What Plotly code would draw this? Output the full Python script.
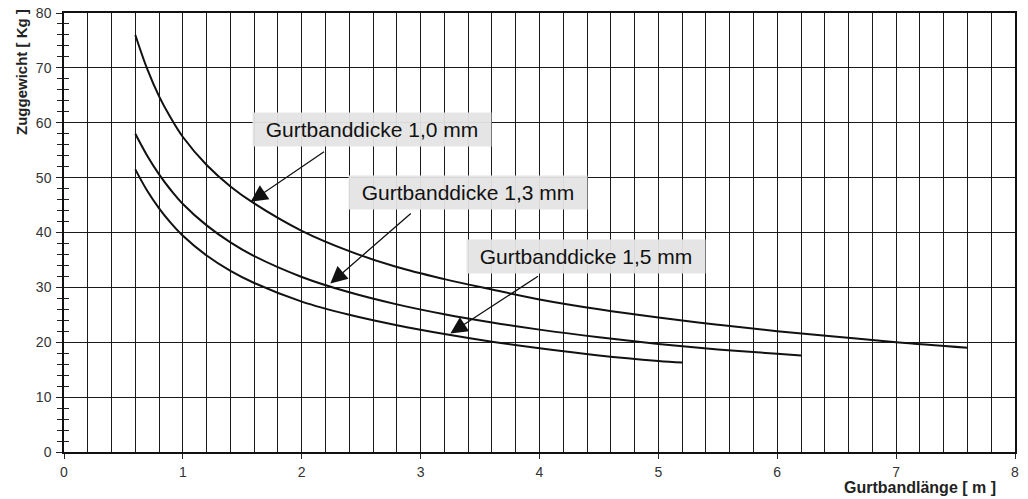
import plotly.graph_objects as go

# Gurtbandlänge [m] sample points and Zuggewicht [Kg]
x_10 = [0.6, 0.7, 0.8, 0.9, 1.0, 1.2, 1.4, 1.6, 2.0, 2.4, 2.8, 3.2, 3.6, 4.0, 4.5, 5.0, 5.5, 6.0, 6.5, 7.0, 7.6]
y_10 = [76.0, 69.8, 64.8, 60.8, 57.4, 52.3, 48.4, 45.3, 40.3, 36.6, 33.7, 31.5, 29.6, 27.8, 26.0, 24.5, 23.2, 22.0, 21.0, 20.0, 19.0]

x_13 = [0.6, 0.7, 0.8, 0.9, 1.0, 1.2, 1.4, 1.6, 2.0, 2.4, 2.8, 3.2, 3.6, 4.0, 4.5, 5.0, 5.5, 6.0, 6.2]
y_13 = [58.0, 54.0, 50.6, 47.7, 45.2, 41.3, 38.2, 35.7, 31.9, 29.1, 26.9, 25.1, 23.6, 22.3, 20.9, 19.7, 18.7, 17.9, 17.6]

x_15 = [0.6, 0.7, 0.8, 0.9, 1.0, 1.2, 1.4, 1.6, 2.0, 2.4, 2.8, 3.2, 3.6, 4.0, 4.5, 5.0, 5.2]
y_15 = [51.5, 47.6, 44.4, 41.7, 39.4, 35.8, 33.0, 30.8, 27.4, 25.0, 23.1, 21.5, 20.1, 18.9, 17.6, 16.6, 16.3]

labels = ["Gurtbanddicke 1,0 mm", "Gurtbanddicke 1,3 mm", "Gurtbanddicke 1,5 mm"]
label_pos = [(2.59, 58.7), (3.40, 47.2), (4.39, 35.6)]
arrow_tail = [(2.20, 54.9), (2.93, 43.7), (4.00, 32.2)]
arrow_head = [(1.57, 45.6), (2.24, 30.7), (3.25, 21.6)]

x_ticks = [0, 1, 2, 3, 4, 5, 6, 7, 8]
y_ticks = [0, 10, 20, 30, 40, 50, 60, 70, 80]

fig = go.Figure()
for xs, ys in [(x_10, y_10), (x_13, y_13), (x_15, y_15)]:
    fig.add_trace(go.Scatter(x=xs, y=ys, mode="lines",
                             line=dict(color="#111", width=2, shape="spline", smoothing=1.0),
                             showlegend=False, hoverinfo="skip"))

# invisible trace on y2 so the overlay axis (inner tick halves) is drawn
fig.add_trace(go.Scatter(x=[0], y=[0], yaxis="y2", mode="markers",
                         marker=dict(opacity=0), showlegend=False, hoverinfo="skip"))

font = "Liberation Sans, Arial, sans-serif"
for txt, (tx, ty), (ax, ay), (hx, hy) in zip(labels, label_pos, arrow_tail, arrow_head):
    fig.add_annotation(x=tx, y=ty, text=txt, showarrow=False,
                       font=dict(family=font, size=21, color="#111"),
                       width=226, height=21, align="center",
                       bgcolor="rgba(228,228,228,0.95)", borderpad=6)
    fig.add_annotation(x=hx, y=hy, ax=ax, ay=ay, axref="x", ayref="y",
                       text="", showarrow=True, arrowhead=2, arrowsize=2.6,
                       arrowwidth=1.3, arrowcolor="#111")

fig.add_annotation(x=7.86, xref="x", y=-0.082, yref="paper", xanchor="right", yanchor="middle",
                   text="<b>Gurtbandlänge [ m ]</b>", showarrow=False,
                   font=dict(family=font, size=16, color="#222"))
fig.add_annotation(x=-0.044, xref="paper", y=0.866, yref="paper", textangle=-90,
                   xanchor="center", yanchor="middle",
                   text="<b>Zuggewicht [ Kg ]</b>", showarrow=False,
                   font=dict(family=font, size=15, color="#222"))

fig.update_layout(
    width=1028, height=499,
    margin=dict(l=64, r=13, t=13, b=47, autoexpand=False),
    paper_bgcolor="white", plot_bgcolor="white",
    font=dict(family=font, size=14, color="#333"),
    xaxis=dict(range=[0, 8], tickvals=x_ticks, ticks="outside", ticklen=5, automargin=False,
               tickcolor="#222", showgrid=True, gridcolor="#1a1a1a", gridwidth=1,
               minor=dict(dtick=0.2, showgrid=True, gridcolor="#1a1a1a", gridwidth=1, ticks=""),
               showline=True, linecolor="#111", linewidth=1.5, mirror=True,
               zeroline=False, tickfont=dict(size=14, color="#333"), ticklabelstandoff=1),
    yaxis=dict(range=[0, 80], tickvals=y_ticks, ticks="outside", ticklen=6, automargin=False,
               tickcolor="#222", showgrid=True, gridcolor="#1a1a1a", gridwidth=1,
               minor=dict(dtick=2, ticks="outside", ticklen=5, tickcolor="#222", showgrid=False),
               showline=True, linecolor="#111", linewidth=1.5, mirror=True,
               zeroline=False, tickfont=dict(size=14, color="#333"), ticklabelstandoff=2),
    yaxis2=dict(range=[0, 80], overlaying="y", side="left", anchor="x", automargin=False,
                tickvals=y_ticks, ticks="inside", ticklen=5, tickcolor="#222",
                minor=dict(dtick=2, ticks="inside", ticklen=5, tickcolor="#222"),
                showticklabels=False, showgrid=False, zeroline=False, showline=False),
)

fig.write_html("out.html", config={"displayModeBar": False},
               post_script="document.body.style.margin='0px';")
